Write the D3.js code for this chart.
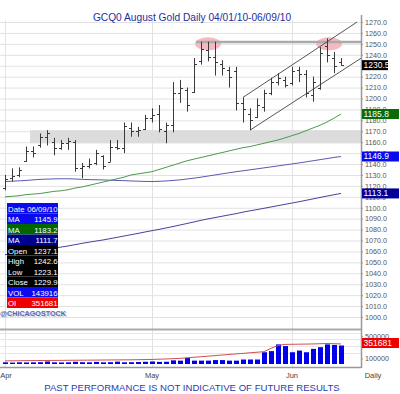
<!DOCTYPE html>
<html>
<head>
<meta charset="utf-8">
<script src="https://cdn.jsdelivr.net/npm/d3@7/dist/d3.min.js"></script>
<style>
body { margin: 0; background: #fff; }
svg { display: block; font-family: "Liberation Sans", Arial, sans-serif; }
</style>
</head>
<body>
<svg width="400" height="394"></svg>
<script>
// daily bars, 04/01/10 .. 06/09/10 (+ partial last bar)
const opens  = [1118,1127,1130,1143,1152,1157,1165,1160,1155,1159,1160,1136,1138,1141,1147,1142,1156,1155,1173,1170,1172,1182,1186,1170,1176,1205,1208,1206,1234,1244,1238,1232,1226,1225,1196,1186,1183,1192,1205,1215,1217,1214,1226,1222,1203,1210,1248,1237.1,1233];
const highs  = [1130,1136,1137,1156,1156,1168,1171,1164,1162,1164,1162,1141,1145,1153,1148,1162,1162,1178,1178,1174,1185,1191,1194,1178,1215,1217,1210,1237,1252,1252,1252,1235,1229,1229,1201,1191,1200,1208,1219,1223,1220,1229,1229,1226,1220,1247,1255,1242.6,1237];
const lows   = [1116,1124,1128,1142,1146,1155,1157,1148,1153,1153,1133,1127,1136,1139,1135,1142,1153,1150,1165,1165,1171,1178,1169,1159,1169,1196,1188,1205,1231,1234,1221,1221,1210,1189,1178,1171,1182,1188,1203,1212,1210,1212,1215,1201,1197,1208,1233,1223.1,1230];
const closes = [1126,1129,1135,1152,1150,1165,1168,1155,1159,1161,1136,1138,1140,1150,1138,1156,1155,1175,1170,1171,1182,1185,1172,1176,1205,1210,1194,1232,1245,1238,1233,1228,1220,1196,1190,1180,1194,1205,1215,1219,1212,1225,1222,1205,1215,1242,1240,1229.9,1230.5];

const maBlue  = [1124,1124.3,1124.6,1125,1125.5,1126,1126.2,1126.4,1126.5,1126.5,1126.3,1126,1125.8,1125.6,1125.5,1125.2,1125,1124.8,1124.5,1124.3,1124.1,1124,1124.2,1124.5,1125,1125.5,1126.3,1127.1,1128,1129,1130,1131,1132,1133,1133.8,1134.7,1135.6,1136.5,1137.4,1138.3,1139.2,1140.1,1141,1142,1143,1144,1145,1146,1146.9];
const maGreen = [1110,1110.5,1111,1112,1112.5,1113,1114,1115,1115.5,1116.5,1118,1119,1120.5,1122,1123.5,1125,1126.5,1128,1130,1131,1132,1133,1135,1137,1139,1141,1143,1144.5,1146,1147.5,1149,1150.5,1152,1153.5,1155,1156,1157.5,1159,1160.5,1162,1164,1166,1168,1170.5,1173,1175.5,1178.5,1182,1185.8];
const maNavy  = [1057,1058,1058.8,1059.7,1060.5,1061.3,1062.2,1063,1064,1065,1066.2,1067.4,1068.5,1069.5,1070.5,1071.7,1072.9,1074.1,1075.3,1076.5,1077.8,1079,1080.2,1081.5,1082.8,1084.2,1085.6,1087,1088.5,1089.8,1091,1092.2,1093.4,1094.6,1096,1097.2,1098.3,1099.5,1100.7,1101.9,1103.1,1104.3,1105.5,1106.8,1108.1,1109.4,1110.7,1111.9,1113.1];

const volume = [30000,25000,30000,28000,30000,32000,45000,30000,28000,30000,40000,32000,30000,38000,30000,32000,42000,30000,32000,35000,40000,45000,38000,40000,65000,60000,110000,60000,60000,60000,70000,70000,60000,60000,80000,80000,80000,210000,230000,350000,320000,210000,240000,210000,270000,300000,350000,340000,330000];
const openInt = [55000,57000,58000,60000,61000,62000,63000,64000,65000,66000,67000,68000,69000,70000,71000,72000,73000,74000,75000,77000,79000,82000,86000,90000,95000,100000,110000,120000,130000,140000,150000,160000,170000,180000,190000,200000,210000,220000,280000,330000,350000,352000,354000,356000,358000,362000,366000,362000,358000];

const monthLabels = ['Apr', 'May', 'Jun'];
const monthIndex = [0, 21, 41];
const priceTicks = d3.range(1000, 1271, 10);
const volTicks = [100000, 500000];
const volGrid = [200000, 320000, 440000, 560000];

const infoLabels = ['Date', 'MA', 'MA', 'MA', 'Open', 'High', 'Low', 'Close', 'VOL', 'OI'];
const infoValues = ['06/09/10', '1145.9', '1183.2', '1111.7', '1237.1', '1242.6', '1223.1', '1229.9', '143916', '351681'];
const infoColors = ['#0a0aee', '#0a0aee', '#006600', '#00008f', '#000', '#000', '#000', '#000', '#0a0aee', '#ee0000'];

// support band, resistance, channel, marked tops
const band = [1159, 1171];
const resistance = {from: 27.3, to: 51.0, p: 1251.7};
const channelUpper = [[34, 1201], [50.3, 1270]];
const channelLower = [[35, 1171], [50.9, 1237]];
const tops = [[29, 1250], [46.3, 1250]];

const svg = d3.select('svg');

const x = d3.scaleLinear().domain([0, 48]).range([5, 341]);
const y = d3.scaleLinear().domain([1000, 1270]).range([317, 22]);
const yVol = d3.scaleLinear().domain([0, 500000]).range([364, 336]);

const axisX = 361;

svg.append('clipPath').attr('id', 'priceClip')
    .append('rect').attr('x', 0).attr('y', 15).attr('width', axisX).attr('height', 314);

const grid = svg.append('g');
grid.selectAll('line.h')
    .data(priceTicks)
    .join('line')
    .attr('x1', 0).attr('x2', axisX)
    .attr('y1', d => y(d) + 0.5).attr('y2', d => y(d) + 0.5)
    .attr('stroke', '#e2e2e2');
grid.selectAll('line.v')
    .data(monthIndex)
    .join('line')
    .attr('x1', d => x(d) + 0.5).attr('x2', d => x(d) + 0.5)
    .attr('y1', 20).attr('y2', 367)
    .attr('stroke', '#e2e2e2');
grid.selectAll('line.vg')
    .data(volGrid)
    .join('line')
    .attr('x1', 0).attr('x2', axisX)
    .attr('y1', d => Math.round(yVol(d)) + 0.5).attr('y2', d => Math.round(yVol(d)) + 0.5)
    .attr('stroke', '#e6e6e6');

const price = svg.append('g').attr('clip-path', 'url(#priceClip)');

price.append('rect')
    .attr('x', 30).attr('width', axisX - 30)
    .attr('y', y(band[1])).attr('height', y(band[0]) - y(band[1]))
    .attr('fill', '#dcdcdc');

price.selectAll('ellipse')
    .data(tops)
    .join('ellipse')
    .attr('cx', d => x(d[0])).attr('cy', d => y(d[1]))
    .attr('rx', 13).attr('ry', 6.5)
    .attr('fill', '#f5b9c2');

price.append('line')
    .attr('x1', x(resistance.from)).attr('x2', x(resistance.to))
    .attr('y1', y(resistance.p)).attr('y2', y(resistance.p))
    .attr('stroke', '#aaa').attr('stroke-width', 2.5);

const maLine = d3.line().x((d, i) => x(i)).y(d => y(d));
[[maBlue, '#5a5ab4'], [maGreen, '#4c9a4c'], [maNavy, '#44449a']].forEach(([data, color]) => {
    price.append('path')
        .attr('d', maLine(data))
        .attr('fill', 'none')
        .attr('stroke', color)
        .attr('stroke-width', 1);
});

const chLine = d3.line().x(d => x(d[0])).y(d => y(d[1]));
[channelUpper, channelLower].forEach(ch => {
    price.append('path')
        .attr('d', chLine(ch))
        .attr('stroke', '#555')
        .attr('stroke-width', 1)
        .attr('fill', 'none');
});

// OHLC bars
const bars = price.selectAll('g.bar')
    .data(d3.range(highs.length))
    .join('g')
    .attr('class', 'bar')
    .attr('stroke', '#3a3a3a')
    .attr('stroke-width', 1);
bars.append('line')
    .attr('x1', i => Math.round(x(i)) + 0.5).attr('x2', i => Math.round(x(i)) + 0.5)
    .attr('y1', i => y(highs[i])).attr('y2', i => y(lows[i]));
bars.append('line')
    .attr('x1', i => Math.round(x(i)) - 2).attr('x2', i => Math.round(x(i)) + 0.5)
    .attr('y1', i => Math.round(y(opens[i])) + 0.5).attr('y2', i => Math.round(y(opens[i])) + 0.5);
bars.append('line')
    .attr('x1', i => Math.round(x(i)) + 0.5).attr('x2', i => Math.round(x(i)) + 3)
    .attr('y1', i => Math.round(y(closes[i])) + 0.5).attr('y2', i => Math.round(y(closes[i])) + 0.5);

// volume panel
svg.append('g').selectAll('rect')
    .data(volume)
    .join('rect')
    .attr('x', (d, i) => Math.round(x(i)) - 2)
    .attr('width', 5)
    .attr('y', d => yVol(d))
    .attr('height', d => yVol(0) - yVol(d))
    .attr('fill', '#0000ee');

svg.append('path')
    .attr('d', d3.line().x((d, i) => x(i)).y(d => yVol(d))(openInt))
    .attr('fill', 'none')
    .attr('stroke', '#d05050')
    .attr('stroke-width', 1);

// frame lines
svg.append('line')
    .attr('x1', 0).attr('x2', axisX).attr('y1', 329.5).attr('y2', 329.5)
    .attr('stroke', '#aaa').attr('stroke-width', 2);
svg.append('line')
    .attr('x1', 0).attr('x2', axisX).attr('y1', 367.5).attr('y2', 367.5)
    .attr('stroke', '#999').attr('stroke-width', 1.5);
svg.append('line')
    .attr('x1', axisX + 0.5).attr('x2', axisX + 0.5).attr('y1', 15).attr('y2', 368)
    .attr('stroke', '#999').attr('stroke-width', 1.5);

// right axes
const priceAxis = svg.append('g')
    .attr('transform', `translate(${axisX},0)`)
    .call(d3.axisRight(y).tickValues(priceTicks).tickFormat(d3.format('.1f')).tickSize(2));
const volAxis = svg.append('g')
    .attr('transform', `translate(${axisX},0)`)
    .call(d3.axisRight(yVol).tickValues(volTicks).tickFormat(d3.format('d')).tickSize(2));
[priceAxis, volAxis].forEach(a => {
    a.select('.domain').remove();
    a.selectAll('line').attr('stroke', '#999');
    a.selectAll('text')
        .attr('x', 4)
        .attr('fill', '#555')
        .attr('font-size', 7.2)
        .attr('font-family', '"Liberation Sans", Arial, sans-serif');
});

// last-value tags
const tags = [
    [y(closes[closes.length - 1]), closes[closes.length - 1].toFixed(1), '#000', 26],
    [y(maGreen[48]), maGreen[48].toFixed(1), '#0a6a0a', 37],
    [y(maBlue[48]), maBlue[48].toFixed(1), '#0a0aee', 37],
    [y(maNavy[48]), maNavy[48].toFixed(1), '#000099', 37],
    [343, infoValues[9], '#ee0000', 37]
];
const tag = svg.append('g').selectAll('g')
    .data(tags)
    .join('g')
    .attr('transform', d => `translate(${axisX + 1},${d[0] - 5})`);
tag.append('rect')
    .attr('width', d => d[3]).attr('height', 10)
    .attr('fill', d => d[2]);
tag.append('text')
    .attr('x', 1.5).attr('y', 8)
    .attr('fill', '#fff')
    .attr('font-size', 8.5)
    .text(d => d[1]);

// month labels
svg.append('g').selectAll('text')
    .data(monthLabels)
    .join('text')
    .attr('x', (d, i) => x(monthIndex[i]) + (i === 0 ? 1 : 0))
    .attr('y', 378)
    .attr('text-anchor', 'middle')
    .attr('font-size', 7.5)
    .attr('fill', '#444')
    .text(d => d);
svg.append('text')
    .attr('x', 373).attr('y', 378)
    .attr('text-anchor', 'middle')
    .attr('font-size', 7.5)
    .attr('fill', '#444')
    .text('Daily');

// info box
const info = svg.append('g').attr('transform', 'translate(7,203)');
const rows = info.selectAll('g')
    .data(infoLabels)
    .join('g')
    .attr('transform', (d, i) => `translate(0,${i * 10.5})`);
rows.append('rect')
    .attr('width', 51).attr('height', 10.5)
    .attr('fill', (d, i) => infoColors[i]);
rows.append('text')
    .attr('x', 1).attr('y', 8.5)
    .attr('fill', '#fff')
    .attr('font-size', 7.8)
    .text(d => d);
rows.append('text')
    .attr('x', 50.5).attr('y', 8.5)
    .attr('text-anchor', 'end')
    .attr('fill', '#fff')
    .attr('font-size', 7.8)
    .text((d, i) => infoValues[i]);

// watermark
svg.append('text')
    .attr('x', 1.5).attr('y', 317)
    .attr('font-size', 7.2).attr('font-weight', 'bold')
    .attr('fill', '#c8cde0')
    .text('@CHICAGOSTOCK');
svg.append('text')
    .attr('x', 0).attr('y', 316)
    .attr('font-size', 7.2).attr('font-weight', 'bold')
    .attr('fill', '#5a6aa8')
    .text('@CHICAGOSTOCK');

svg.append('text')
    .attr('x', 192).attr('y', 21)
    .attr('text-anchor', 'middle')
    .attr('font-size', 10.2)
    .attr('fill', '#1c2fa0')
    .text('GCQ0 August Gold Daily 04/01/10-06/09/10');

svg.append('text')
    .attr('x', 192).attr('y', 391)
    .attr('text-anchor', 'middle')
    .attr('font-size', 9.6)
    .attr('fill', '#2a3cb0')
    .text('PAST PERFORMANCE IS NOT INDICATIVE OF FUTURE RESULTS');
</script>
</body>
</html>
